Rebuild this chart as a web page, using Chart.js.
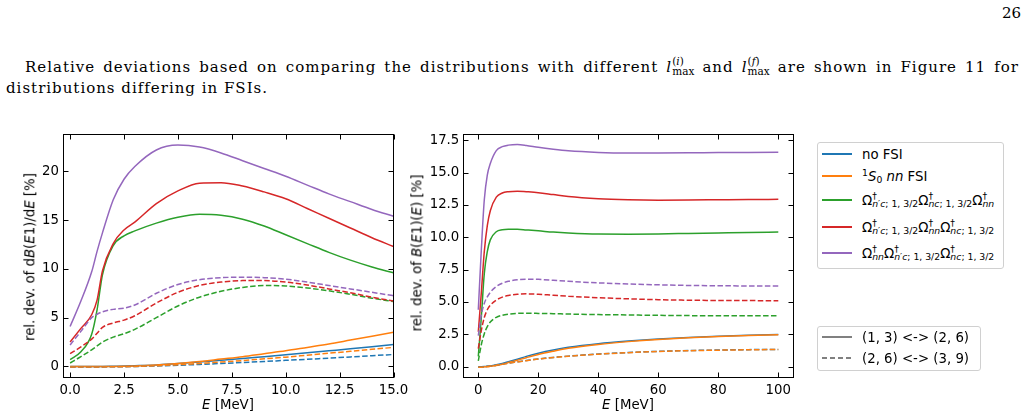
<!DOCTYPE html>
<html>
<head>
<meta charset="utf-8">
<script src="https://cdn.jsdelivr.net/npm/chart.js@4.4.1/dist/chart.umd.min.js"></script>
<style>
  body { margin: 0; background: #fff; }
  #page { position: relative; width: 1028px; height: 419px; overflow: hidden; background: #fff; font-family: 'DejaVu Sans', sans-serif; color: #000; }
  .txt { position: absolute; font-family: 'DejaVu Serif', serif; font-size: 15px; letter-spacing: 1px; line-height: 21px; white-space: nowrap; }
  .just { white-space: normal; text-align: justify; text-align-last: justify; }
  .ss { position: relative; display: inline-block; line-height: 0; font-size: 70%; letter-spacing: 0; }
  .ss .dn { position: relative; top: 0.3em; }
  .ss .up { position: absolute; left: 0; bottom: 0.1em; line-height: 1; }
  .sp { position: relative; top: -0.45em; font-size: 70%; line-height: 0; }
  .sb { position: relative; top: 0.3em; font-size: 70%; line-height: 0; }
  canvas { position: absolute; }
  .ttl { position: absolute; font-size: 13.3px; white-space: nowrap; line-height: 1; }
  .rot { transform: translate(-50%, -50%) rotate(-90deg); }
  .hor { transform: translate(-50%, -50%); }
  .leg { position: absolute; border: 1px solid #d0d0d0; border-radius: 3px; background: #fff; box-sizing: border-box; }
  .row { position: absolute; left: 4px; height: 20px; display: flex; align-items: center; font-size: 13.3px; white-space: nowrap; }
  .sw { width: 30px; height: 1.5px; margin-right: 10px; flex: none; }
  .dash { background: repeating-linear-gradient(90deg, #808080 0 5.5px, transparent 5.5px 8px); }
</style>
</head>
<body>
<div id="page">
  <div class="txt" style="right:7px;top:3px;letter-spacing:0;">26</div>
  <div class="txt just" style="left:25px;top:57px;width:994px;">Relative deviations based on comparing the distributions with different <i>l</i><span class="ss"><span class="up">(<i>i</i>)</span><span class="dn">max</span></span> and <i>l</i><span class="ss"><span class="up">(<i>f</i>)</span><span class="dn">max</span></span> are shown in Figure 11 for</div>
  <div class="txt" style="left:6px;top:78px;">distributions differing in FSIs.</div>

  <canvas id="lowChart" width="430" height="299" style="left:0;top:120px;"></canvas>
  <canvas id="highChart" width="420" height="299" style="left:400px;top:120px;"></canvas>

  <div class="ttl rot" style="left:30px;top:257px;">rel. dev. of d<i>B</i>(<i>E</i>1)/d<i>E</i> [%]</div>
  <div class="ttl hor" style="left:228px;top:405px;"><i>E</i> [MeV]</div>
  <div class="ttl rot" style="left:417px;top:253px;">rel. dev. of <i>B</i>(<i>E</i>1)(<i>E</i>) [%]</div>
  <div class="ttl hor" style="left:628px;top:405px;"><i>E</i> [MeV]</div>

  <div class="leg" style="left:817px;top:142px;width:187px;height:127px;">
    <div class="row" style="top:1px;"><span class="sw" style="background:#1f77b4"></span><span>no FSI</span></div>
    <div class="row" style="top:23px;"><span class="sw" style="background:#ff7f0e"></span><span><span class="sp">1</span><i>S</i><span class="sb">0</span> <i>nn</i> FSI</span></div>
    <div class="row" style="top:47px;"><span class="sw" style="background:#2ca02c"></span><span>Ω<span class="ss"><span class="up">†</span><span class="dn"><i>n</i>′<i>c</i>; 1, 3/2</span></span>Ω<span class="ss"><span class="up">†</span><span class="dn"><i>nc</i>; 1, 3/2</span></span>Ω<span class="ss"><span class="up">†</span><span class="dn"><i>nn</i></span></span></span></div>
    <div class="row" style="top:74px;"><span class="sw" style="background:#d62728"></span><span>Ω<span class="ss"><span class="up">†</span><span class="dn"><i>n</i>′<i>c</i>; 1, 3/2</span></span>Ω<span class="ss"><span class="up">†</span><span class="dn"><i>nn</i></span></span>Ω<span class="ss"><span class="up">†</span><span class="dn"><i>nc</i>; 1, 3/2</span></span></span></div>
    <div class="row" style="top:100px;"><span class="sw" style="background:#9467bd"></span><span>Ω<span class="ss"><span class="up">†</span><span class="dn"><i>nn</i></span></span>Ω<span class="ss"><span class="up">†</span><span class="dn"><i>n</i>′<i>c</i>; 1, 3/2</span></span>Ω<span class="ss"><span class="up">†</span><span class="dn"><i>nc</i>; 1, 3/2</span></span></span></div>
  </div>
  <div class="leg" style="left:817px;top:326px;width:164px;height:45px;">
    <div class="row" style="top:0px;"><span class="sw" style="background:#808080"></span><span>(1, 3) &lt;-&gt; (2, 6)</span></div>
    <div class="row" style="top:21px;"><span class="sw dash"></span><span>(2, 6) &lt;-&gt; (3, 9)</span></div>
  </div>
</div>

<script>
'use strict';

// energies (MeV) of the sampled points
let eLow = [0, 0.5, 1, 1.25, 1.5, 2, 2.5, 3, 4, 5, 6, 7, 8, 9, 10, 11, 12, 13, 14, 15];
let eHigh = [0, 1, 2, 3, 4, 6, 8, 10, 13, 16, 20, 25, 30, 40, 50, 60, 70, 80, 90, 100];

// left panel, dB(E1)/dE, (1,3) <-> (2,6)
let lowNoFsiA = [0, 0, 0, 0, 0, 0.02, 0.04, 0.07, 0.15, 0.3, 0.45, 0.62, 0.8, 1.0, 1.2, 1.4, 1.6, 1.8, 2.02, 2.25];
let lowS0A = [-0.02, -0.02, -0.02, -0.02, -0.01, 0, 0.02, 0.05, 0.15, 0.3, 0.5, 0.75, 1.0, 1.3, 1.6, 1.95, 2.3, 2.7, 3.1, 3.5];
let lowOmega1A = [0.7, 1.5, 3.3, 5.8, 9.4, 12.4, 13.4, 13.9, 14.7, 15.3, 15.6, 15.5, 15.1, 14.4, 13.5, 12.6, 11.7, 10.9, 10.2, 9.6];
let lowOmega2A = [2.5, 3.9, 5.3, 6.8, 9.8, 12.6, 14.0, 14.8, 16.7, 18.0, 18.8, 18.85, 18.5, 17.9, 17.2, 16.2, 15.2, 14.2, 13.2, 12.3];
let lowOmega3A = [4.1, 6.7, 9.7, 11.8, 13.7, 17.1, 19.2, 20.5, 22.2, 22.7, 22.5, 21.9, 21.1, 20.3, 19.5, 18.6, 17.7, 16.9, 16.1, 15.4];

// left panel, (2,6) <-> (3,9)
let lowNoFsiB = [-0.05, -0.05, -0.05, -0.05, -0.05, -0.04, -0.03, -0.01, 0.05, 0.12, 0.2, 0.3, 0.4, 0.5, 0.62, 0.73, 0.85, 0.97, 1.1, 1.22];
let lowS0B = [-0.05, -0.05, -0.05, -0.05, -0.05, -0.04, -0.03, 0, 0.07, 0.17, 0.3, 0.45, 0.6, 0.78, 0.95, 1.15, 1.35, 1.55, 1.75, 1.95];
let lowOmega1B = [0.35, 1.0, 1.7, 2.1, 2.5, 3.0, 3.35, 3.8, 5.0, 6.2, 7.1, 7.7, 8.1, 8.3, 8.25, 8.05, 7.75, 7.4, 7.0, 6.65];
let lowOmega2B = [1.3, 2.0, 2.8, 3.4, 4.0, 4.45, 4.75, 5.2, 6.5, 7.6, 8.3, 8.65, 8.8, 8.8, 8.65, 8.35, 7.95, 7.55, 7.1, 6.7];
let lowOmega3B = [2.2, 3.6, 5.0, 5.35, 5.6, 5.85, 5.97, 6.3, 7.5, 8.4, 8.9, 9.1, 9.15, 9.1, 8.95, 8.65, 8.3, 7.95, 7.6, 7.25];

// right panel, B(E1)(E), (1,3) <-> (2,6)
let highNoFsiA = [0, 0, 0.01, 0.03, 0.06, 0.15, 0.26, 0.38, 0.58, 0.8, 1.05, 1.3, 1.5, 1.78, 1.98, 2.14, 2.26, 2.36, 2.44, 2.5];
let highS0A = [-0.02, -0.02, -0.01, 0, 0.03, 0.1, 0.2, 0.32, 0.5, 0.7, 0.95, 1.2, 1.42, 1.72, 1.94, 2.11, 2.24, 2.34, 2.42, 2.48];
let highOmega1A = [0.8, 3.8, 7.2, 8.9, 9.8, 10.43, 10.58, 10.62, 10.62, 10.57, 10.5, 10.4, 10.33, 10.25, 10.24, 10.26, 10.3, 10.34, 10.38, 10.4];
let highOmega2A = [2.7, 5.7, 8.9, 10.9, 12.05, 13.1, 13.42, 13.52, 13.56, 13.52, 13.45, 13.3, 13.15, 12.98, 12.9, 12.87, 12.88, 12.9, 12.92, 12.93];
let highOmega3A = [4.4, 9.0, 12.9, 14.8, 15.7, 16.7, 17.0, 17.12, 17.17, 17.1, 16.95, 16.8, 16.68, 16.56, 16.52, 16.52, 16.53, 16.55, 16.56, 16.57];

// right panel, (2,6) <-> (3,9)
let highNoFsiB = [-0.03, -0.02, 0, 0.03, 0.06, 0.12, 0.2, 0.28, 0.38, 0.48, 0.6, 0.72, 0.82, 0.98, 1.1, 1.19, 1.25, 1.29, 1.32, 1.34];
let highS0B = [-0.04, -0.03, -0.01, 0.02, 0.05, 0.11, 0.19, 0.27, 0.37, 0.47, 0.59, 0.71, 0.81, 0.97, 1.09, 1.18, 1.24, 1.28, 1.31, 1.33];
let highOmega1B = [0.45, 1.7, 2.55, 3.1, 3.45, 3.82, 3.98, 4.06, 4.12, 4.13, 4.12, 4.1, 4.07, 4.03, 4.0, 3.97, 3.95, 3.94, 3.93, 3.93];
let highOmega2B = [1.4, 2.8, 3.8, 4.4, 4.75, 5.15, 5.38, 5.5, 5.6, 5.63, 5.6, 5.52, 5.45, 5.33, 5.25, 5.18, 5.14, 5.12, 5.11, 5.1];
let highOmega3B = [2.4, 4.0, 4.9, 5.4, 5.75, 6.2, 6.45, 6.6, 6.72, 6.76, 6.75, 6.68, 6.6, 6.48, 6.4, 6.33, 6.28, 6.26, 6.24, 6.23];

let fsiNames = ['no FSI', '1S0 nn FSI', "Ω n'c Ω nc Ω nn", "Ω n'c Ω nn Ω nc", "Ω nn Ω n'c Ω nc"];
let pairNames = ['(1, 3) <-> (2, 6)', '(2, 6) <-> (3, 9)'];
let colors = ['#1f77b4', '#ff7f0e', '#2ca02c', '#d62728', '#9467bd'];

let lowTicksX = [0, 2.5, 5, 7.5, 10, 12.5, 15];
let lowTicksY = [0, 5, 10, 15, 20];
let highTicksX = [0, 20, 40, 60, 80, 100];
let highTicksY = [0, 2.5, 5, 7.5, 10, 12.5, 15, 17.5];

function makeDatasets(xs, solid, dashed) {
  let sets = [];
  let n = 0;
  [solid, dashed].forEach(function (group, g) {
    group.forEach(function (ys, i) {
      sets.push({
        label: fsiNames[i] + ' ' + pairNames[g],
        data: xs.map(function (x, k) { return {x: x, y: ys[k]}; }),
        borderColor: colors[i],
        borderWidth: 1.5,
        borderDash: g ? [5.5, 2.4] : [],
        pointRadius: 0,
        cubicInterpolationMode: 'monotone',
        order: 20 - n
      });
      n++;
    });
  });
  return sets;
}

// frame with inward ticks on all four sides
let boxTicks = {
  id: 'boxTicks',
  afterDraw(chart) {
    let ctx = chart.ctx;
    let a = chart.chartArea;
    let sx = chart.scales.x;
    let sy = chart.scales.y;
    let L = Math.round(a.left) + 0.5;
    let R = Math.floor(a.right) + 0.5;
    let T = Math.round(a.top) + 0.5;
    let B = Math.round(a.bottom) - 0.5;
    ctx.save();
    ctx.strokeStyle = '#000';
    ctx.lineWidth = 1;
    ctx.beginPath();
    sx.ticks.forEach(function (t) {
      let p = Math.round(sx.getPixelForValue(t.value)) + 0.5;
      ctx.moveTo(p, B); ctx.lineTo(p, B - 5);
      ctx.moveTo(p, T); ctx.lineTo(p, T + 5);
    });
    sy.ticks.forEach(function (t) {
      let p = Math.round(sy.getPixelForValue(t.value)) + 0.5;
      ctx.moveTo(L, p); ctx.lineTo(L + 5, p);
      ctx.moveTo(R, p); ctx.lineTo(R - 5, p);
    });
    ctx.stroke();
    ctx.strokeRect(L, T, R - L, B - T);
    ctx.restore();
  }
};

function drawChart(id, sets, xRange, yRange, xTicks, yTicks, xFmt, yFmt, padRight, yWidth) {
  let font = {family: 'DejaVu Sans', size: 13.3};
  new Chart(document.getElementById(id), {
    type: 'line',
    data: {datasets: sets},
    options: {
      responsive: false,
      animation: false,
      devicePixelRatio: 1,
      layout: {padding: {left: 0, top: 14, right: padRight, bottom: 0}},
      plugins: {legend: {display: false}, tooltip: {enabled: false}},
      scales: {
        x: {
          type: 'linear',
          min: xRange[0],
          max: xRange[1],
          grid: {display: false, drawTicks: false},
          border: {display: false},
          ticks: {font: font, color: '#000', padding: 5, autoSkip: false, maxRotation: 0, callback: xFmt},
          afterBuildTicks: function (s) { s.ticks = xTicks.map(function (v) { return {value: v}; }); },
          afterFit: function (s) { s.height = 41; s.paddingLeft = 0; s.paddingRight = 0; }
        },
        y: {
          type: 'linear',
          min: yRange[0],
          max: yRange[1],
          grid: {display: false, drawTicks: false},
          border: {display: false},
          ticks: {font: font, color: '#000', padding: 4, autoSkip: false, callback: yFmt},
          afterBuildTicks: function (s) { s.ticks = yTicks.map(function (v) { return {value: v}; }); },
          afterFit: function (s) { s.width = yWidth; s.paddingTop = 0; s.paddingBottom = 0; }
        }
      }
    },
    plugins: [boxTicks]
  });
}

function oneDecimal(v) { return Number(v).toFixed(1); }
function plain(v) { return String(v); }

drawChart('lowChart',
  makeDatasets(eLow,
    [lowNoFsiA, lowS0A, lowOmega1A, lowOmega2A, lowOmega3A],
    [lowNoFsiB, lowS0B, lowOmega1B, lowOmega2B, lowOmega3B]),
  [-0.33, 15], [-1.19, 23.84], lowTicksX, lowTicksY, oneDecimal, plain, 36.5, 63);

drawChart('highChart',
  makeDatasets(eHigh,
    [highNoFsiA, highS0A, highOmega1A, highOmega2A, highOmega3A],
    [highNoFsiB, highS0B, highOmega1B, highOmega2B, highOmega3B]),
  [-5, 105], [-0.87, 17.98], highTicksX, highTicksY, plain, oneDecimal, 26.7, 63.3);
</script>
</body>
</html>
